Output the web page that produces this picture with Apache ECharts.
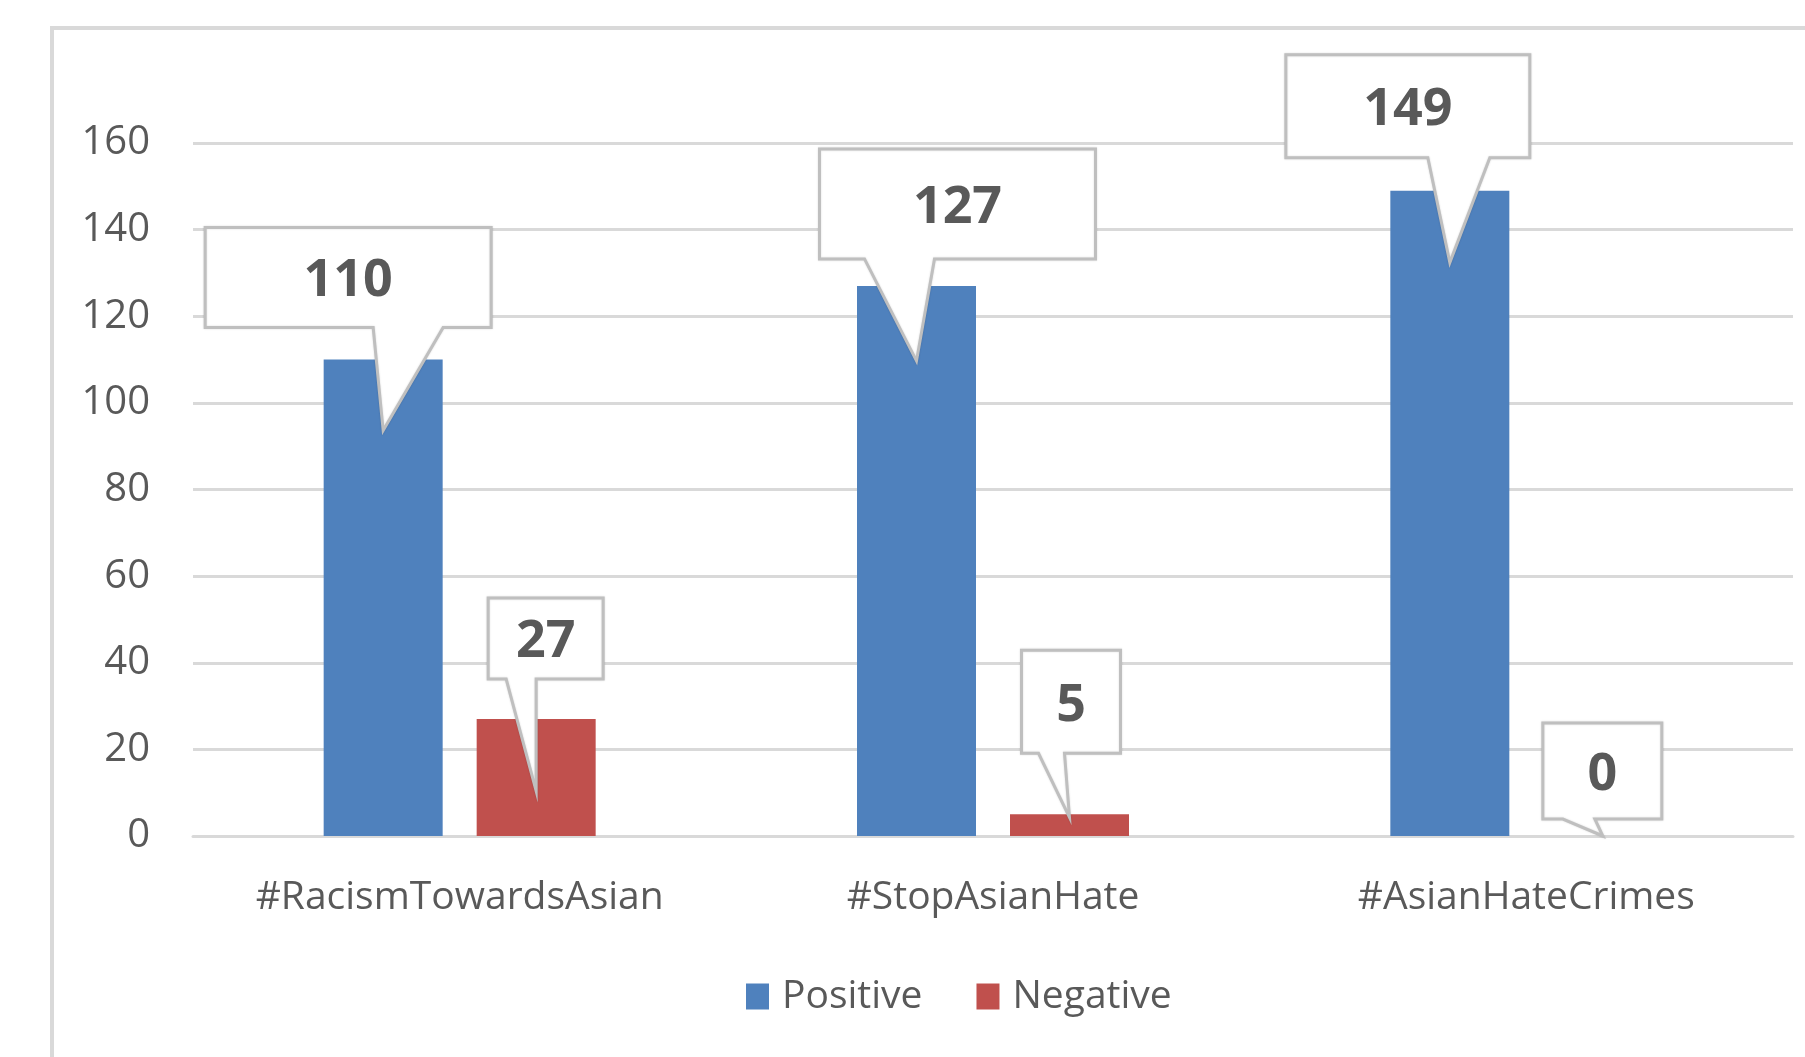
<!DOCTYPE html>
<html>
<head>
<meta charset="utf-8">
<script src="https://cdn.jsdelivr.net/npm/echarts@6/dist/echarts.min.js"></script>
<style>
  html, body { margin: 0; padding: 0; background: #fff; }
  #chart { width: 1805px; height: 1057px; }
</style>
</head>
<body>
<div id="chart"></div>
<script>
const hashtags = ["#RacismTowardsAsian", "#StopAsianHate", "#AsianHateCrimes"];
const positive = [110, 127, 149];
const negative = [27, 5, 0];
const seriesNames = ["Positive", "Negative"];
const yTicks = [0, 20, 40, 60, 80, 100, 120, 140, 160];

// callout boxes, offsets from the top-centre of each bar (px)
// [boxLeft, boxRight, boxTop, boxBottom, baseLeft, baseRight, tipDy]
const calloutLayout = [
  [[-178, 108, -132, -32, -10, 60, 71], [-97, 179, -137, -27, -52, 18, 75], [-164, 80, -136, -33, -22, 40, 72]],
  [[-48, 67, -121, -40, -30, 0, 72], [-48, 51, -164, -61, -31, -5, 3], [-60, 59, -113, -17, -40, -8, 0]]
];

const barWidth = 119;
const barGapPx = 34;

let callouts = [];
[positive, negative].forEach((vals, s) => {
  vals.forEach((v, i) => callouts.push([i, v, s]));
});

const chart = echarts.init(document.getElementById("chart"));

chart.setOption({
  animation: false,
  grid: { left: 193, right: 12, top: 143, bottom: 221 },
  graphic: [
    {
      type: "rect",
      shape: { x: 52, y: 28, width: 2000, height: 1500 },
      style: { fill: "none", stroke: "#d9d9d9", lineWidth: 4 },
      silent: true,
      z: -1,
    },
  ],
  legend: {
    data: seriesNames,
    left: 741,
    top: 972,
    icon: "rect",
    itemWidth: 23,
    itemHeight: 26,
    itemGap: 54,
    textStyle: { fontFamily: "Open Sans", fontSize: 39, color: "#595959", padding: [0, 0, 0, 8] },
  },
  xAxis: {
    type: "category",
    data: hashtags,
    axisTick: { show: false },
    axisLine: { lineStyle: { color: "#d9d9d9", width: 3 } },
    axisLabel: {
      fontFamily: "Open Sans",
      fontSize: 39,
      color: "#595959",
      margin: 42,
      lineHeight: 39,
    },
  },
  yAxis: {
    type: "value",
    min: yTicks[0],
    max: yTicks[yTicks.length - 1],
    interval: 20,
    axisLine: { show: false },
    axisTick: { show: false },
    splitLine: { lineStyle: { color: "#d9d9d9", width: 3 } },
    axisLabel: { fontFamily: "Open Sans", fontSize: 40, color: "#595959", margin: 43, padding: [12, 0, 0, 0] },
  },
  series: [
    {
      name: seriesNames[0],
      type: "bar",
      data: positive,
      barWidth: barWidth,
      barGap: (barGapPx / barWidth) * 100 + "%",
      itemStyle: { color: "#4f81bd" },
    },
    {
      name: seriesNames[1],
      type: "bar",
      data: negative,
      barWidth: barWidth,
      itemStyle: { color: "#c0504d" },
    },
    {
      type: "custom",
      z: 10,
      data: callouts,
      renderItem: function (params, api) {
        const cat = api.value(0);
        const val = api.value(1);
        const s = api.value(2);
        const pt = api.coord([cat, val]);
        const off = (barWidth + barGapPx) / 2;
        const px = pt[0] + (s === 0 ? -off : off);
        const py = pt[1];
        const L = calloutLayout[s][cat];
        const left = px + L[0], right = px + L[1];
        const top = py + L[2], bottom = py + L[3];
        const points = [
          [left, top],
          [right, top],
          [right, bottom],
          [px + L[5], bottom],
          [px, py + L[6]],
          [px + L[4], bottom],
          [left, bottom],
        ];
        return {
          type: "group",
          children: [
            {
              type: "polygon",
              shape: { points: points },
              style: {
                fill: "#ffffff",
                stroke: "#bfbfbf",
                lineWidth: 3,
                shadowBlur: 2,
                shadowColor: "rgba(0,0,0,0.15)",
              },
            },
            {
              type: "text",
              style: {
                x: (left + right) / 2,
                y: (top + bottom) / 2 + 4,
                text: String(val),
                align: "center",
                verticalAlign: "middle",
                fontFamily: "Open Sans",
                fontWeight: "bold",
                fontSize: 52,
                fill: "#595959",
              },
            },
          ],
        };
      },
    },
  ],
});
</script>
</body>
</html>
